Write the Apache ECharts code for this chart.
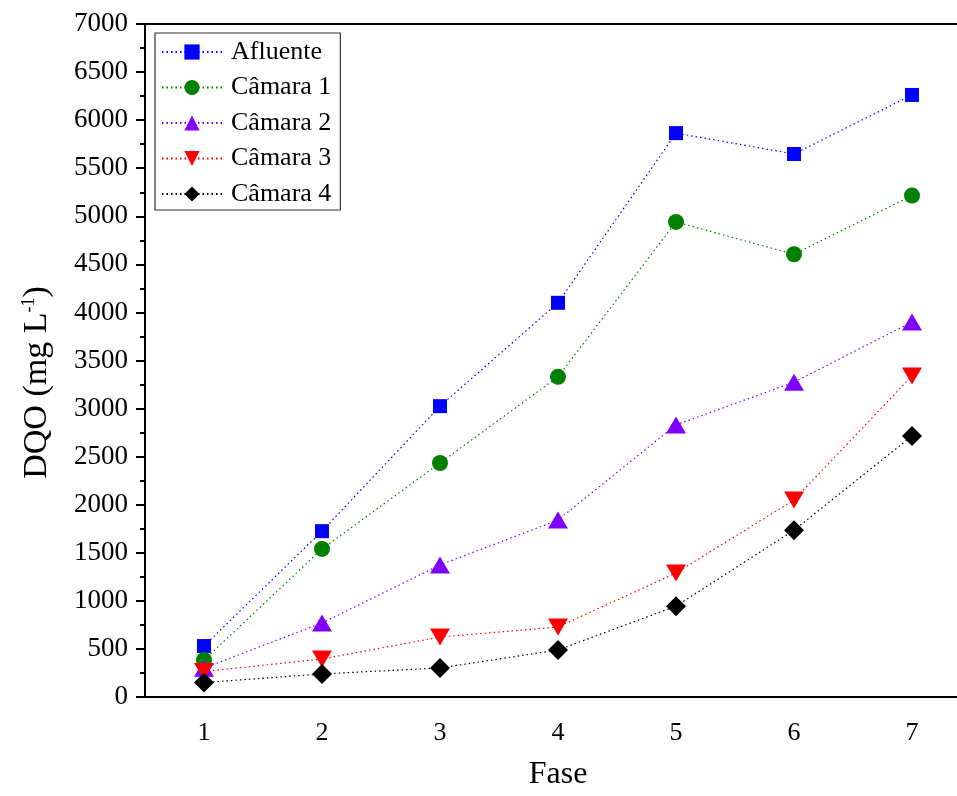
<!DOCTYPE html>
<html><head><meta charset="utf-8">
<script src="https://cdn.jsdelivr.net/npm/echarts@6/dist/echarts.min.js"></script>
<style>html,body{margin:0;padding:0;background:#fff;overflow:hidden}#c{width:957px;height:796px}</style>
</head><body><div id="c"></div>
<script>
const categories = ['1','2','3','4','5','6','7'];
const afluente = [530, 1725, 3025, 4100, 5865, 5648, 6262];
const camara1 = [385, 1540, 2434, 3330, 4941, 4605, 5215];
const camara2 = [300, 770, 1373, 1841, 2830, 3275, 3900];
const camara3 = [265, 395, 624, 728, 1290, 2050, 3340];
const camara4 = [150, 240, 302, 489, 945, 1735, 2715];
const yTicks = {min: 0, max: 7000, interval: 500};

const font = '"Liberation Serif","Times New Roman",serif';
function mk(name, data, color, symbol, size) {
  return {
    name, type: 'line', data, symbol, symbolSize: size,
    itemStyle: {color},
    lineStyle: {color, width: 1.2, type: [1.5, 3]},
    emphasis: {disabled: true}, z: 3
  };
}
const chart = echarts.init(document.getElementById('c'), null, {renderer: 'canvas'});
chart.setOption({
  animation: false,
  backgroundColor: '#fff',
  textStyle: {fontFamily: font, color: '#000'},
  grid: {left: 145, top: 24, height: 673, width: 826, outerBoundsMode: 'none', containLabel: false,
    show: true, borderColor: '#000', borderWidth: 2, backgroundColor: 'transparent'},
  legend: {
    left: 155, top: 33, orient: 'vertical',
    itemWidth: 60, itemHeight: 19, itemGap: 9.5,
    padding: [6, 9, 3, 6],
    borderColor: '#333', borderWidth: 1.2,
    textStyle: {fontFamily: font, fontSize: 26, color: '#000', padding: [0,0,0,4]},
    data: ['Afluente','Câmara 1','Câmara 2','Câmara 3','Câmara 4']
  },
  xAxis: {
    type: 'category', data: categories, boundaryGap: true,
    name: 'Fase', nameLocation: 'middle', nameGap: 62,
    nameTextStyle: {fontFamily: font, fontSize: 32, color: '#000'},
    axisLine: {lineStyle: {color: '#000', width: 2}},
    axisTick: {alignWithLabel: true, length: 9, lineStyle: {color: '#000', width: 2}},
    axisLabel: {fontFamily: font, fontSize: 26, color: '#000', margin: 23},
    splitLine: {show: false}
  },
  yAxis: {
    type: 'value', min: yTicks.min, max: yTicks.max, interval: yTicks.interval,
    name: 'DQO (mg L{sup|-1})', nameLocation: 'middle', nameGap: 91, nameRotate: 90,
    nameTextStyle: {fontFamily: font, fontSize: 34, color: '#000', padding: [0, 44, 0, 0],
      rich: {sup: {fontFamily: font, fontSize: 18, color: '#000', verticalAlign: 'top', padding: [0,0,14,0]}}},
    axisLine: {show: true, lineStyle: {color: '#000', width: 2}},
    axisTick: {show: true, length: 9, lineStyle: {color: '#000', width: 2}},
    minorTick: {show: true, splitNumber: 2, length: 5, lineStyle: {color: '#000', width: 2}},
    axisLabel: {fontFamily: font, fontSize: 27, color: '#000', margin: 17, formatter: v => String(v)},
    splitLine: {show: false}
  },
  series: [
    mk('Afluente', afluente, '#0000ff', 'rect', 14),
    mk('Câmara 1', camara1, '#008000', 'circle', 16),
    mk('Câmara 2', camara2, '#8000ff', 'triangle', [20, 17]),
    mk('Câmara 3', camara3, '#ff0000', 'path://M0,0 L10,0 L5,9 Z', [20, 17]),
    mk('Câmara 4', camara4, '#000000', 'diamond', [20, 20])
  ]
});
</script></body></html>
